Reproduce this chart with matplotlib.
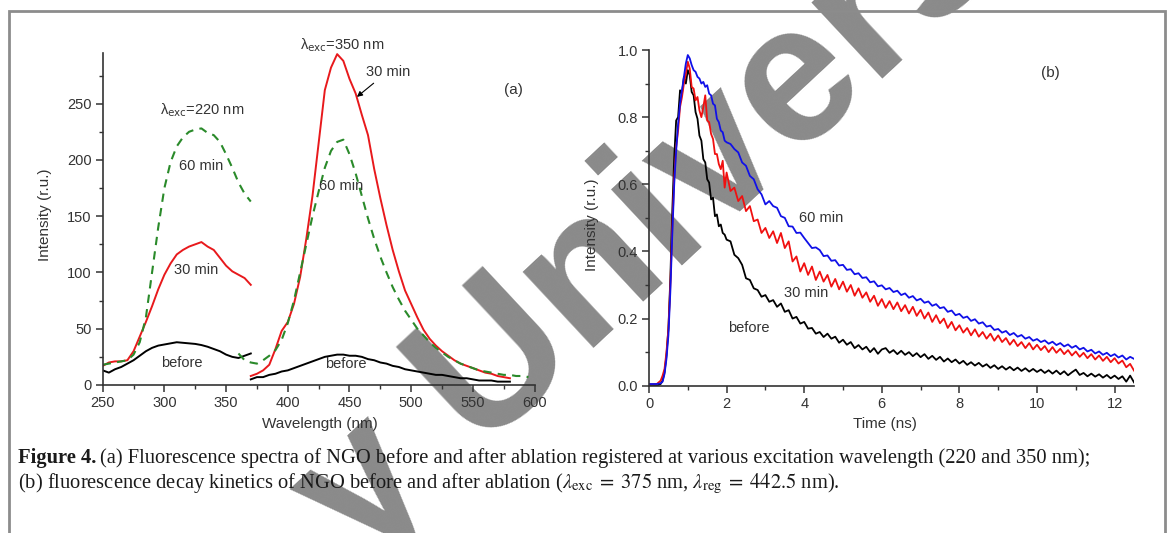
import numpy as np
import matplotlib
matplotlib.use("Agg")
import matplotlib.pyplot as plt
from matplotlib.ticker import MultipleLocator, FormatStrFormatter
from matplotlib.patches import Rectangle

# ---------------- data: panel (a) fluorescence spectra ----------------
wl_220 = [250, 255, 260, 265, 270, 275, 280, 285, 290, 295, 300, 305, 310, 315,
          320, 325, 330, 335, 340, 345, 350, 355, 360, 365, 370]
before_220 = [13, 11, 14, 16, 19, 22, 26, 30, 33, 35, 36, 37, 38, 37.5,
              37, 36.5, 35.5, 34, 32, 30, 27, 25, 24, 26, 28]
min30_220 = [17, 20, 21, 21, 22, 30, 43, 56, 70, 85, 98, 108, 116, 120,
             123, 125, 127, 123, 120, 113, 106, 101, 98, 95, 89]
min60_220 = [18, 19, 20, 21, 22, 27, 38, 60, 100, 140, 175, 198, 212, 220,
             225, 227, 228, 224, 222, 216, 205, 193, 180, 170, 163]

wl_350 = [370, 375, 380, 385, 390, 395, 400, 405, 410, 415, 420, 425, 430, 435,
          440, 445, 450, 455, 460, 465, 470, 475, 480, 485, 490, 495, 500, 505,
          510, 515, 520, 525, 530, 535, 540, 545, 550, 555, 560, 565, 570, 575, 580]
before_350 = [5, 7, 7, 9, 10, 12, 13, 15, 17, 19, 21, 23, 25, 26,
              27, 27, 26, 26, 25, 23, 22, 20, 19, 17, 16, 14, 13, 12,
              11, 10, 9, 9, 8, 7, 6, 6, 5, 4, 4, 4, 3, 3, 3]
min30_350 = [8, 10, 13, 18, 32, 48, 56, 72, 96, 130, 168, 215, 262, 282,
             294, 288, 272, 259, 240, 222, 192, 166, 142, 120, 101, 84, 72, 60,
             49, 41, 35, 30, 26, 22, 19, 17, 15, 13, 11, 10, 8, 7, 6]
wl_350g = [360, 365, 370, 375, 380, 385, 390, 395, 400, 405, 410, 415, 420, 425,
           430, 435, 440, 445, 450, 455, 460, 465, 470, 475, 480, 485, 490, 495,
           500, 505, 510, 515, 520, 525, 530, 535, 540, 545, 550, 555, 560, 565,
           570, 575, 580, 585, 590, 595]
min60_350 = [28, 22, 20, 19, 22, 26, 31, 40, 55, 75, 100, 125, 150, 172,
             193, 208, 216, 218, 205, 188, 168, 148, 130, 114, 100, 87, 76, 66,
             58, 50, 44, 38, 33, 29, 25, 22, 19, 17, 15, 13, 12, 11,
             10, 9, 9, 8, 8, 7]

# ---------------- data: panel (b) decay kinetics ----------------
t_ns = [0.0, 0.1, 0.2, 0.3, 0.35, 0.4, 0.45, 0.5, 0.55, 0.6, 0.65, 0.7, 0.75, 0.8, 0.85, 0.9, 0.95, 1.0,
        1.05, 1.1, 1.15, 1.2, 1.25, 1.3, 1.35, 1.4, 1.45, 1.5, 1.55, 1.6, 1.65, 1.7, 1.75, 1.8, 1.85, 1.9, 1.95, 2.0,
        2.1, 2.2, 2.3, 2.4, 2.5, 2.6, 2.7, 2.8, 2.9, 3.0, 3.1, 3.2, 3.3, 3.4, 3.5, 3.6, 3.7, 3.8, 3.9, 4.0,
        4.1, 4.2, 4.3, 4.4, 4.5, 4.6, 4.7, 4.8, 4.9, 5.0, 5.1, 5.2, 5.3, 5.4, 5.5, 5.6, 5.7, 5.8, 5.9, 6.0,
        6.1, 6.2, 6.3, 6.4, 6.5, 6.6, 6.7, 6.8, 6.9, 7.0, 7.1, 7.2, 7.3, 7.4, 7.5, 7.6, 7.7, 7.8, 7.9, 8.0,
        8.1, 8.2, 8.3, 8.4, 8.5, 8.6, 8.7, 8.8, 8.9, 9.0, 9.1, 9.2, 9.3, 9.4, 9.5, 9.6, 9.7, 9.8, 9.9, 10.0,
        10.1, 10.2, 10.3, 10.4, 10.5, 10.6, 10.7, 10.8, 10.9, 11.0, 11.1, 11.2, 11.3, 11.4, 11.5, 11.6, 11.7,
        11.8, 11.9, 12.0, 12.1, 12.2, 12.3, 12.4, 12.5]
decay_before = [0.0, 0.0, 0.0, 0.005, 0.015, 0.04, 0.09, 0.17, 0.32, 0.52, 0.68, 0.79, 0.8, 0.88, 0.87, 0.92, 0.9, 0.94,
                0.925, 0.875, 0.865, 0.815, 0.795, 0.745, 0.73, 0.675, 0.665, 0.615, 0.605, 0.555, 0.56, 0.505, 0.51, 0.475, 0.48, 0.455, 0.45, 0.435,
                0.43, 0.39, 0.38, 0.36, 0.32, 0.315, 0.29, 0.285, 0.265, 0.27, 0.25, 0.255, 0.235, 0.245, 0.22, 0.225, 0.2, 0.205, 0.185, 0.19,
                0.17, 0.172, 0.155, 0.16, 0.145, 0.155, 0.14, 0.146, 0.128, 0.137, 0.122, 0.13, 0.112, 0.121, 0.108, 0.116, 0.1, 0.112, 0.095, 0.108,
                0.112, 0.098, 0.106, 0.094, 0.104, 0.092, 0.1, 0.088, 0.097, 0.085, 0.094, 0.08, 0.089, 0.077, 0.086, 0.072, 0.081, 0.07, 0.078, 0.066,
                0.074, 0.062, 0.07, 0.06, 0.068, 0.057, 0.064, 0.053, 0.061, 0.05, 0.058, 0.048, 0.056, 0.046, 0.054, 0.044, 0.052, 0.042, 0.05, 0.041,
                0.048, 0.038, 0.046, 0.036, 0.045, 0.034, 0.043, 0.031, 0.04, 0.048, 0.032, 0.038, 0.028, 0.036, 0.027, 0.034, 0.024,
                0.032, 0.022, 0.03, 0.02, 0.028, 0.012, 0.03, 0.01]
decay_30 = [0.004, 0.004, 0.005, 0.015, 0.03, 0.05, 0.1, 0.17, 0.3, 0.47, 0.62, 0.71, 0.76, 0.83, 0.86, 0.9, 0.93, 0.965,
            0.945, 0.89, 0.885, 0.85, 0.86, 0.82, 0.8, 0.83, 0.865, 0.79, 0.785, 0.75, 0.735, 0.69, 0.69, 0.66, 0.645, 0.67, 0.59, 0.635,
            0.58, 0.59, 0.55, 0.565, 0.52, 0.535, 0.49, 0.495, 0.455, 0.47, 0.44, 0.46, 0.425, 0.455, 0.41, 0.43, 0.37, 0.385, 0.34, 0.365,
            0.33, 0.355, 0.315, 0.34, 0.31, 0.33, 0.295, 0.318, 0.287, 0.31, 0.28, 0.3, 0.268, 0.29, 0.262, 0.278, 0.25, 0.268, 0.238, 0.258,
            0.232, 0.252, 0.228, 0.248, 0.222, 0.24, 0.215, 0.235, 0.208, 0.226, 0.2, 0.218, 0.19, 0.21, 0.186, 0.2, 0.172, 0.19, 0.165, 0.18,
            0.158, 0.172, 0.15, 0.168, 0.146, 0.16, 0.14, 0.155, 0.134, 0.15, 0.13, 0.142, 0.122, 0.137, 0.118, 0.13, 0.112, 0.127, 0.108, 0.122,
            0.106, 0.118, 0.1, 0.115, 0.098, 0.11, 0.094, 0.106, 0.09, 0.102, 0.086, 0.098, 0.082, 0.094, 0.078, 0.09, 0.074,
            0.086, 0.07, 0.082, 0.066, 0.075, 0.055, 0.065, 0.045]
decay_60 = [0.005, 0.005, 0.005, 0.007, 0.012, 0.035, 0.08, 0.15, 0.28, 0.45, 0.6, 0.7, 0.78, 0.84, 0.88, 0.92, 0.96, 0.985,
            0.975, 0.955, 0.94, 0.935, 0.92, 0.915, 0.9, 0.905, 0.89, 0.895, 0.87, 0.865, 0.84, 0.835, 0.795, 0.785, 0.76, 0.755, 0.73, 0.725,
            0.72, 0.705, 0.695, 0.665, 0.655, 0.625, 0.615, 0.585, 0.57, 0.54, 0.55, 0.535, 0.53, 0.505, 0.5, 0.475, 0.474, 0.455, 0.456, 0.44,
            0.425, 0.41, 0.412, 0.404, 0.386, 0.388, 0.372, 0.374, 0.358, 0.36, 0.345, 0.347, 0.332, 0.335, 0.321, 0.323, 0.308, 0.311, 0.296, 0.299,
            0.287, 0.291, 0.279, 0.283, 0.27, 0.275, 0.262, 0.267, 0.254, 0.259, 0.247, 0.251, 0.238, 0.243, 0.231, 0.234, 0.22, 0.224, 0.21, 0.214,
            0.202, 0.206, 0.193, 0.198, 0.185, 0.189, 0.176, 0.179, 0.166, 0.169, 0.158, 0.163, 0.151, 0.157, 0.146, 0.151, 0.14, 0.145, 0.134, 0.139,
            0.13, 0.135, 0.125, 0.131, 0.121, 0.127, 0.117, 0.123, 0.113, 0.119, 0.108, 0.113, 0.102, 0.107, 0.096, 0.102, 0.092,
            0.098, 0.088, 0.094, 0.084, 0.09, 0.078, 0.086, 0.08]

# ---------------- style ----------------
SANS = "Liberation Sans"
SERIF = "Liberation Serif"
TXT = "#333333"
plt.rcParams["font.family"] = [SANS, "DejaVu Sans"]

W, H = 1171, 533
fig = plt.figure(figsize=(W / 100, H / 100), dpi=100)
fig.patch.set_facecolor("white")

def fx(px):
    return px / W

def fy(py):
    return 1 - py / H

# frame
fig.patches.append(Rectangle((fx(9), -0.05), fx(1165) - fx(9), fy(11) + 0.05,
                             transform=fig.transFigure, fill=False,
                             edgecolor="#8c8c8c", linewidth=2.0, zorder=0))

# watermark (behind everything, partly outside the page like in the scan)
fig.text(fx(650), fy(226), "y Univers", rotation=43, rotation_mode="anchor",
         ha="center", va="center", fontsize=142, fontweight="bold",
         family=SANS, color="#8a8a8a", zorder=-5)

def style_axis(ax):
    ax.set_facecolor("none")
    for s in ("top", "right"):
        ax.spines[s].set_visible(False)
    for s in ("left", "bottom"):
        ax.spines[s].set_color(TXT)
        ax.spines[s].set_linewidth(1.2)
    ax.tick_params(which="major", direction="out", length=5, width=1.1,
                   colors=TXT, labelsize=10.5, pad=3)
    ax.tick_params(which="minor", direction="out", length=3, width=1.0, colors=TXT)

# ---------------- panel (a) ----------------
axa = fig.add_axes([fx(102.7), fy(385), fx(534.6) - fx(102.7), fy(53) - fy(385)])
style_axis(axa)
axa.plot(wl_220, before_220, color="black", lw=1.4)
axa.plot(wl_220, min30_220, color="#e8191c", lw=1.4)
axa.plot(wl_220, min60_220, color="#2a8a2a", lw=1.5, ls=(0, (4, 3)))
axa.plot(wl_350, before_350, color="black", lw=1.4)
axa.plot(wl_350, min30_350, color="#e8191c", lw=1.4)
axa.plot(wl_350g, min60_350, color="#2a8a2a", lw=1.5, ls=(0, (4, 3)))
axa.set_xlim(250, 600)
axa.set_ylim(0, 295)
axa.xaxis.set_major_locator(MultipleLocator(50))
axa.xaxis.set_minor_locator(MultipleLocator(25))
axa.yaxis.set_major_locator(MultipleLocator(50))
axa.yaxis.set_minor_locator(MultipleLocator(25))

kw = dict(fontsize=10.5, color=TXT, ha="center", va="center")
axa.text(296.4, 244.6, r"λ$_{\rm exc}$=220 nm", ha="left", va="center",
         fontsize=10.5, color=TXT, math_fontfamily="dejavusans")
axa.text(409.9, 302, r"λ$_{\rm exc}$=350 nm", ha="left", va="center",
         fontsize=10.5, color=TXT, math_fontfamily="dejavusans", clip_on=False)
axa.text(329.6, 194.8, "60 min", **kw)
axa.text(325.6, 102.3, "30 min", **kw)
axa.text(314.2, 19.6, "before", **kw)
axa.text(443.1, 177, "60 min", **kw)
axa.text(447.1, 18.7, "before", **kw)
axa.text(583.2, 262.4, "(a)", fontsize=11, color=TXT, ha="center", va="center")
axa.annotate("30 min", xy=(456, 256), xytext=(481, 278.4), fontsize=10.5, color=TXT,
             ha="center", va="center",
             arrowprops=dict(arrowstyle="-|>", color="black", lw=0.8,
                             mutation_scale=8, shrinkA=2, shrinkB=0))

# ---------------- panel (b) ----------------
axb = fig.add_axes([fx(649), fy(385.7), fx(1134) - fx(649), fy(50) - fy(385.7)])
style_axis(axb)
axb.plot(t_ns, decay_before, color="black", lw=1.3)
axb.plot(t_ns, decay_30, color="#f01010", lw=1.3)
axb.plot(t_ns, decay_60, color="#1010e8", lw=1.3)
axb.set_xlim(0, 12.5)
axb.set_ylim(0, 1.0)
axb.xaxis.set_major_locator(MultipleLocator(2))
axb.xaxis.set_minor_locator(MultipleLocator(1))
axb.yaxis.set_major_locator(MultipleLocator(0.2))
axb.yaxis.set_minor_locator(MultipleLocator(0.1))
axb.yaxis.set_major_formatter(FormatStrFormatter("%.1f"))
axb.text(10.35, 0.932, "(b)", fontsize=11, color=TXT, ha="center", va="center")
axb.text(4.43, 0.5, "60 min", **kw)
axb.text(4.04, 0.276, "30 min", **kw)
axb.text(2.58, 0.172, "before", **kw)

# axis labels
fig.text(fx(45), fy(215), "Intensity (r.u.)", rotation=90, fontsize=11, color=TXT,
         ha="center", va="center")
fig.text(fx(592), fy(225), "Intensity (r.u.)", rotation=90, fontsize=11, color=TXT,
         ha="center", va="center")
fig.text(fx(320), fy(424), "Wavelength (nm)", fontsize=11, color=TXT, ha="center", va="center")
fig.text(fx(885), fy(424), "Time (ns)", fontsize=11, color=TXT, ha="center", va="center")

# ---------------- caption ----------------
CAP = 14.8
t1 = fig.text(fx(18), fy(458), "Figure 4.", fontsize=CAP, fontweight="bold",
              family=SERIF, color="#1a1a1a", ha="left", va="center")
fig.canvas.draw()
bb = t1.get_window_extent()
fig.text(bb.x1 / W + 0.003, fy(458),
         "(a) Fluorescence spectra of NGO before and after ablation registered at various "
         "excitation wavelength (220 and 350 nm);",
         fontsize=CAP, family=SERIF, color="#1a1a1a", ha="left", va="center")
fig.text(fx(18), fy(484),
         r"(b) fluorescence decay kinetics of NGO before and after ablation "
         r"($\lambda_{\rm exc}\;=\;375$ nm, $\lambda_{\rm reg}\;=\;442.5$ nm).",
         fontsize=CAP, family=SERIF, color="#1a1a1a", ha="left", va="center",
         math_fontfamily="stix")

fig.savefig("out.png", dpi=100, facecolor="white")
